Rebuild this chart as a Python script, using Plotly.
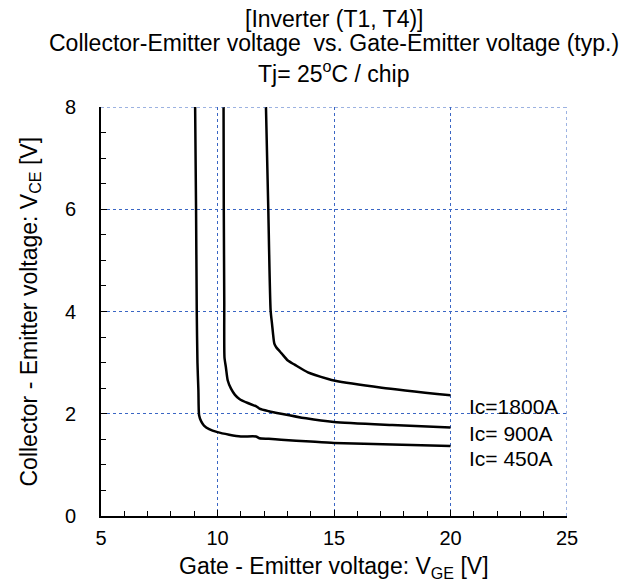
import plotly.graph_objects as go

# Ic = 450 A
vge_450 = [9.04, 9.08, 9.11, 9.14, 9.18, 9.21, 9.30, 9.42, 9.64, 10.0, 10.5, 11.0, 11.65, 11.8, 12.2, 12.73, 14.0, 15.0, 17.5, 20.0]
vce_450 = [8.0, 6.0, 4.0, 3.0, 2.46, 1.97, 1.85, 1.77, 1.70, 1.64, 1.59, 1.555, 1.555, 1.52, 1.51, 1.49, 1.455, 1.43, 1.40, 1.37]

# Ic = 900 A
vge_900 = [10.26, 10.27, 10.29, 10.30, 10.36, 10.44, 10.58, 10.75, 10.94, 11.3, 11.58, 11.65, 11.8, 12.2, 12.73, 13.8, 15.0, 17.5, 20.0]
vce_900 = [8.0, 6.0, 4.2, 3.1, 2.91, 2.65, 2.49, 2.37, 2.29, 2.21, 2.16, 2.15, 2.10, 2.05, 2.00, 1.91, 1.84, 1.78, 1.73]

# Ic = 1800 A
vge_1800 = [12.08, 12.18, 12.28, 12.34, 12.44, 12.52, 12.75, 13.02, 13.31, 13.88, 14.75, 15.0, 17.05, 20.0]
vce_1800 = [8.0, 6.0, 4.02, 3.76, 3.37, 3.30, 3.18, 3.04, 2.96, 2.81, 2.68, 2.65, 2.51, 2.36]

series = [("Ic=1800A", vge_1800, vce_1800, 2.15),
          ("Ic= 900A", vge_900, vce_900, 1.61),
          ("Ic= 450A", vge_450, vce_450, 1.12)]

x_ticks = [5, 10, 15, 20, 25]
y_ticks = [0, 2, 4, 6, 8]
x_range = [5, 25]
y_range = [0, 8]

FONT = "Liberation Sans, Arial, sans-serif"
GRID = "#3a66c4"

fig = go.Figure()
for name, xs, ys, ly in series:
    fig.add_trace(go.Scatter(x=xs, y=ys, mode="lines", name=name,
                             line=dict(color="black", width=2.5, shape="spline", smoothing=0.6),
                             showlegend=False))
    fig.add_annotation(x=20.72, y=ly, text=name, showarrow=False, xanchor="left",
                       yanchor="middle", font=dict(size=21, color="black", family=FONT))

titles = [("[Inverter (T1, T4)]", 88), ("Collector-Emitter voltage  vs. Gate-Emitter voltage (typ.)", 64),
          ("Tj= 25<sup>o</sup>C / chip", 35)]
for t, dy in titles:
    fig.add_annotation(x=0.5, xref="paper", y=1, yref="paper", yshift=dy, text=t, showarrow=False,
                       xanchor="center", yanchor="middle", font=dict(size=23, color="black", family=FONT))

# axis titles
fig.add_annotation(x=0.5, xref="paper", y=0, yref="paper", yshift=-51, text="Gate - Emitter voltage: V<sub>GE</sub> [V]",
                   showarrow=False, xanchor="center", yanchor="middle", font=dict(size=23, color="black", family=FONT))
fig.add_annotation(x=0, xref="paper", y=0.5, yref="paper", xshift=-71, textangle=-90,
                   text="Collector - Emitter voltage: V<sub>CE</sub> [V]",
                   showarrow=False, xanchor="center", yanchor="middle", font=dict(size=23, color="black", family=FONT))

# top and right dotted frame lines
fig.add_shape(type="line", x0=x_range[0], x1=x_range[1], y0=y_range[1], y1=y_range[1], xref="x", yref="y",
              line=dict(color=GRID, width=1, dash="dot"))
fig.add_shape(type="line", x0=x_range[1], x1=x_range[1], y0=y_range[0], y1=y_range[1], xref="x", yref="y",
              line=dict(color=GRID, width=1, dash="dot"))

fig.update_layout(
    width=630, height=586,
    margin=dict(l=101, r=63, t=107, b=70),
    paper_bgcolor="white", plot_bgcolor="white",
    font=dict(family=FONT, color="black", size=19),
    xaxis=dict(range=x_range, tickvals=x_ticks, ticks="inside", ticklen=6, tickcolor="black",
               showline=True, linecolor="black", linewidth=2, mirror=False,
               showgrid=True, gridcolor=GRID, griddash="dot", gridwidth=1, zeroline=False,
               minor=dict(dtick=1, ticks="inside", ticklen=5, tickcolor="black", showgrid=False),
               tickfont=dict(size=20), ticklabelstandoff=3),
    yaxis=dict(range=y_range, tickvals=y_ticks, ticks="inside", ticklen=6, tickcolor="black",
               showline=True, linecolor="black", linewidth=2, mirror=False,
               showgrid=True, gridcolor=GRID, griddash="dot", gridwidth=1, zeroline=False,
               minor=dict(dtick=0.5, ticks="inside", ticklen=5, tickcolor="black", showgrid=False),
               tickfont=dict(size=20), ticklabelstandoff=19),
)

fig.write_html("out.html")
